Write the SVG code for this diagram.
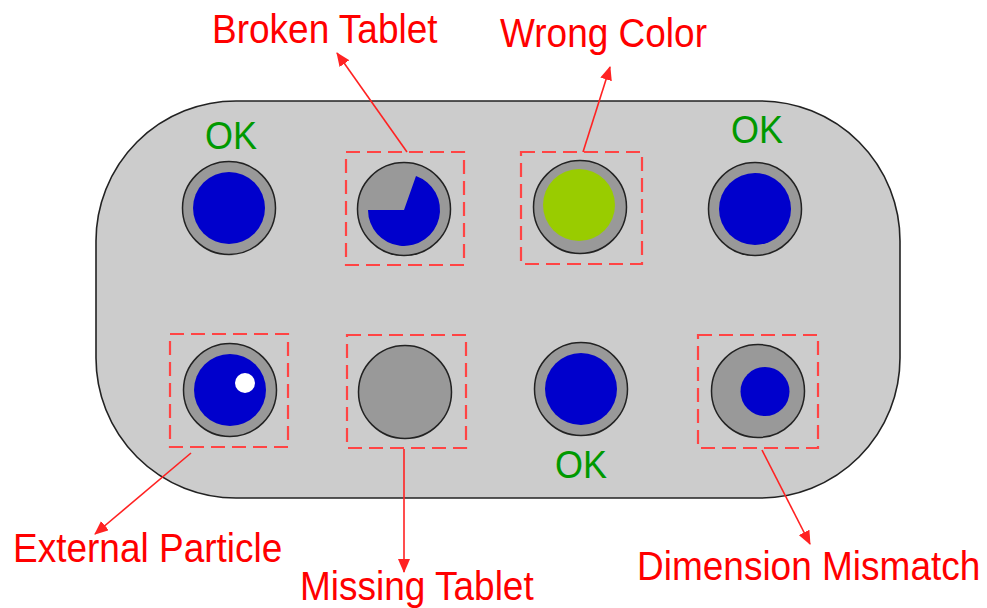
<svg xmlns="http://www.w3.org/2000/svg" width="987" height="608" viewBox="0 0 987 608">
<style>
.label{font-family:"Liberation Sans",Arial,sans-serif;font-size:37px;fill:#ff0000}
.ok{font-family:"Liberation Sans",Arial,sans-serif;font-size:36px;fill:#009900}
.cup{fill:#999999;stroke:#222222;stroke-width:1.5}
.blue{fill:#0000cc}
.box{fill:none;stroke:#ff4444;stroke-width:2.2;stroke-dasharray:14 7}
.conn{stroke:#ff2222;stroke-width:1.6;fill:none}
</style>
<defs>
<marker id="ah" markerUnits="userSpaceOnUse" markerWidth="14" markerHeight="12" refX="13" refY="6" orient="auto">
<path d="M0,0 L14,6 L0,12 Z" fill="#ff2222"/>
</marker>
</defs>
<rect width="987" height="608" fill="#ffffff"/>
<g id="tray">
<rect x="96" y="101" width="804" height="397" rx="140" ry="140" fill="#cccccc" stroke="#222222" stroke-width="1.6"/>
</g>
<g id="ok1">
<circle class="cup" cx="229" cy="208" r="46.5"/>
<circle class="blue" cx="229" cy="208" r="36"/>
<text class="ok" transform="translate(205,149) scale(1,1.06)">OK</text>
</g>
<g id="broken">
<circle class="cup" cx="404" cy="209" r="46.5"/>
<path class="blue" d="M404,210 L416,176 A36,36 0 1,1 368,210 Z"/>
<rect class="box" x="346" y="152" width="118" height="113"/>
</g>
<g id="wrongcolor">
<circle class="cup" cx="580" cy="207" r="46.5"/>
<circle cx="579" cy="205" r="36" fill="#99cc00"/>
<rect class="box" x="521" y="152" width="121" height="112"/>
</g>
<g id="ok2">
<circle class="cup" cx="755" cy="209" r="46.5"/>
<circle class="blue" cx="755" cy="209" r="36"/>
<text class="ok" transform="translate(731,143) scale(1,1.06)">OK</text>
</g>
<g id="external">
<circle class="cup" cx="230" cy="390" r="46.5"/>
<circle class="blue" cx="230" cy="390" r="36"/>
<circle cx="245" cy="383" r="10" fill="#ffffff"/>
<rect class="box" x="170" y="334" width="118" height="113"/>
</g>
<g id="missing">
<circle class="cup" cx="405" cy="392" r="46.5"/>
<rect class="box" x="347" y="335" width="119" height="113"/>
</g>
<g id="ok3">
<circle class="cup" cx="581" cy="389" r="46.5"/>
<circle class="blue" cx="581" cy="389" r="36"/>
<text class="ok" transform="translate(555,478) scale(1,1.06)">OK</text>
</g>
<g id="dimension">
<circle class="cup" cx="758" cy="391" r="46.5"/>
<circle class="blue" cx="765" cy="391.5" r="24.5"/>
<rect class="box" x="698" y="335" width="120" height="113"/>
</g>
<g id="connectors">
<line class="conn" x1="407" y1="152" x2="337" y2="53" marker-end="url(#ah)"/>
<line class="conn" x1="583" y1="152" x2="610" y2="67" marker-end="url(#ah)"/>
<line class="conn" x1="191" y1="453" x2="95" y2="534" marker-end="url(#ah)"/>
<line class="conn" x1="404" y1="449" x2="404" y2="572" marker-end="url(#ah)"/>
<line class="conn" x1="762" y1="450" x2="810" y2="544" marker-end="url(#ah)"/>
</g>
<g id="labels">
<text class="label" transform="translate(212,43) scale(1,1.08)">Broken Tablet</text>
<text class="label" transform="translate(500,47) scale(1,1.08)">Wrong Color</text>
<text class="label" transform="translate(13,562) scale(1,1.08)">External Particle</text>
<text class="label" transform="translate(300,600) scale(1,1.08)">Missing Tablet</text>
<text class="label" transform="translate(637,580) scale(1,1.08)">Dimension Mismatch</text>
</g>
</svg>
